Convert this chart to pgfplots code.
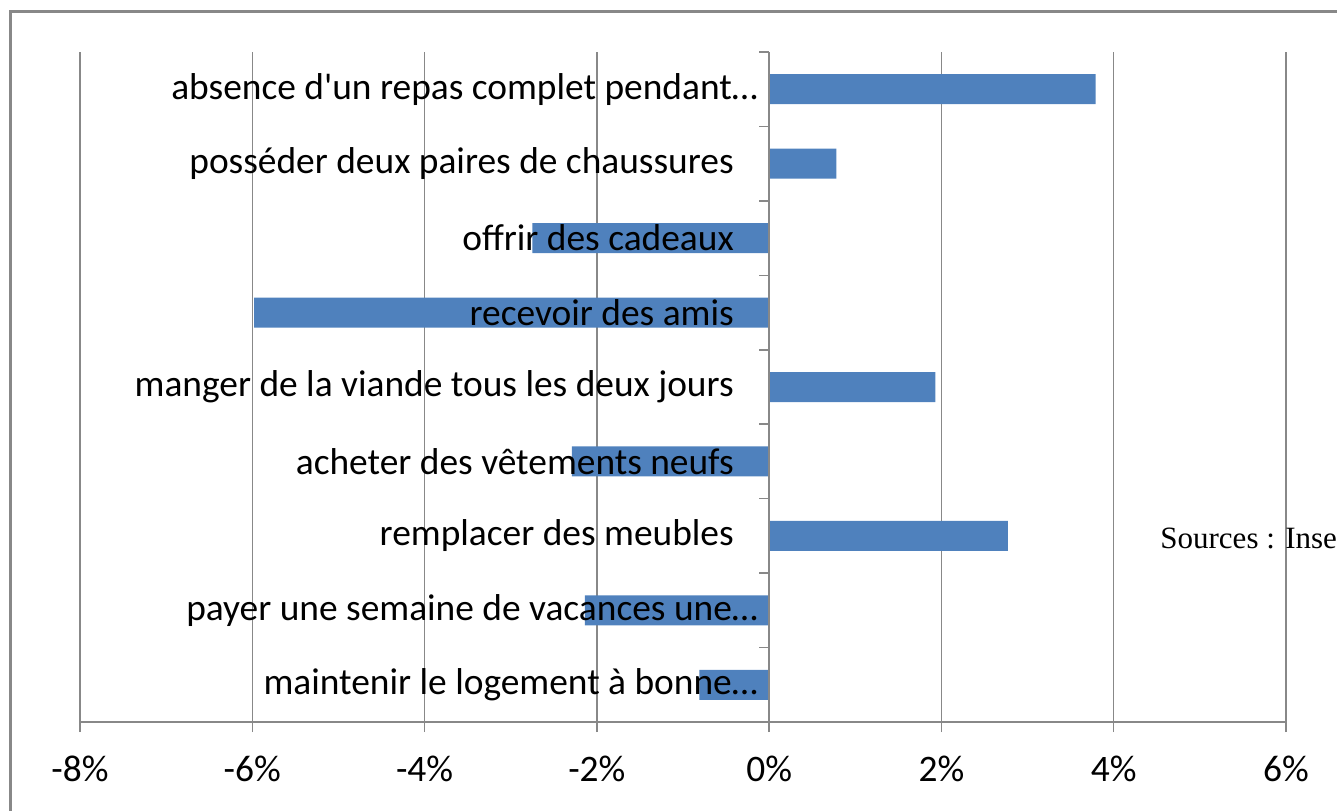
\documentclass[border=0pt]{standalone}
\usepackage{fontspec}
\setmainfont{Carlito}
\newfontfamily\timesfont{Liberation Serif}
\usepackage{pgfplots}
\pgfplotsset{compat=1.18}
\definecolor{barblue}{HTML}{4F81BD}
\definecolor{axgray}{HTML}{888888}
\newcommand{\pad}{\hspace*{12pt}}
% bars above the grid, labels above the bars
\pgfplotsset{layers/barsunder/.define layer set={
    axis background,axis grid,main,axis ticks,axis lines,
    axis tick labels,axis descriptions,axis foreground}{/pgfplots/layers/standard}}
\begin{document}
\begin{tikzpicture}
\draw[axgray, line width=1.5pt] (5.25pt,399.25pt) rectangle (720pt,-30pt);
\node[anchor=base west, inner sep=0pt, font=\timesfont\fontsize{15.5}{18}\selectfont] at (580pt,131pt) {Sources : Insee};
\begin{axis}[
    set layers=barsunder,
    at={(40pt,44pt)}, anchor=south west,
    scale only axis, width=603pt, height=335pt,
    xmin=-8, xmax=6, ymin=-0.5, ymax=8.5,
    xbar, bar width=15pt,
    axis x line*=bottom, axis y line*=middle,
    axis line style={axgray, line width=1pt},
    xmajorgrids, grid style={axgray, line width=0.75pt},
    xtick={-8,-6,...,6},
    xticklabels={-8\%,-6\%,-4\%,-2\%,0\%,2\%,4\%,6\%},
    ytick={0,...,8},
    yticklabels={
        maintenir le logement à bonne…,
        payer une semaine de vacances une…,
        remplacer des meubles\pad,
        acheter des vêtements neufs\pad,
        manger de la viande tous les deux jours\pad,
        recevoir des amis\pad,
        offrir des cadeaux\pad,
        posséder deux paires de chaussures\pad,
        absence d\textquotesingle un repas complet pendant…},
    minor ytick={-0.5,0.5,...,8.5},
    tick align=outside,
    major tick length=5pt, minor tick length=5pt,
    tick style={axgray, line width=0.75pt},
    major y tick style={draw=none},
    tick label style={font=\fontsize{18.7}{22}\selectfont},
    yticklabel style={anchor=east, inner sep=0pt, xshift=-0.5pt},
    xticklabel style={anchor=north, inner sep=0pt, yshift=-12pt},
]
\addplot[fill=barblue, draw=none] coordinates {
    (-0.81,0) (-2.14,1) (2.77,2) (-2.29,3) (1.93,4)
    (-5.98,5) (-2.75,6) (0.78,7) (3.79,8)};
\end{axis}
\pgfresetboundingbox
\useasboundingbox (0pt,0pt) rectangle (668.5pt,405pt);
\end{tikzpicture}
\end{document}
